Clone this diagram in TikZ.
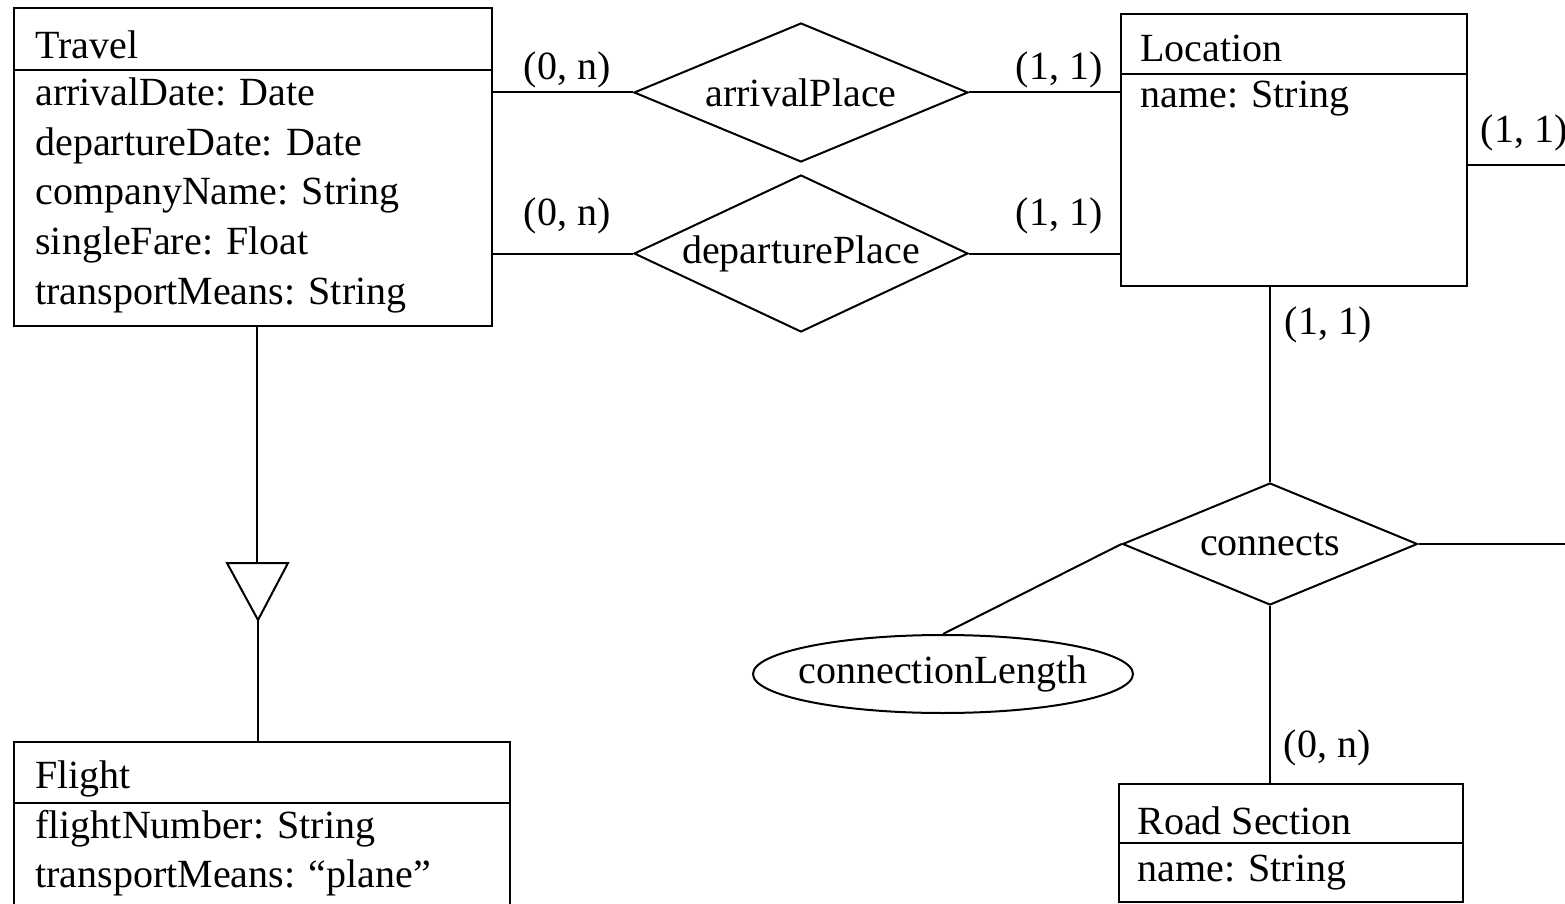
\documentclass[tikz,border=0pt]{standalone}
\usepackage{fontspec}
\setmainfont{Liberation Serif}
\usepackage{tikz}
\usetikzlibrary{shapes.geometric,fit}

\tikzset{
  box/.style={draw, line width=1pt, inner sep=0pt},
  rel/.style={draw, diamond, line width=1pt, inner sep=0pt, shape aspect=2.2, minimum width=334*0.5pt},
  attrib/.style={draw, ellipse, line width=1pt, inner sep=0pt},
  entry/.style={anchor=base west, inner sep=0pt},
  card/.style={inner sep=0pt},
  link/.style={line width=1pt},
}

\begin{document}
\begin{tikzpicture}[x=0.5pt, y=-0.5pt, font=\fontsize{20pt}{24pt}\selectfont]
\useasboundingbox (0,0) rectangle (1565,904);
\clip (0,0) rectangle (1565,904);

% entities
\node[box, fit={(14,8) (492,326)}] (travel) {};
\node[box, fit={(1121,14) (1467,286)}] (location) {};
\node[box, fit={(14,742) (510,930)}] (flight) {};
\node[box, fit={(1119,784) (1463,902)}] (road) {};
\draw[link] (14,70) -- (492,70);
\draw[link] (1121,74) -- (1467,74);
\draw[link] (14,803) -- (510,803);
\draw[link] (1119,843) -- (1463,843);

\node[entry] (travelname) at (35,59) {Travel};
\foreach \a [count=\i] in {arrivalDate: Date, departureDate: Date, companyName: String, singleFare: Float, transportMeans: String}
  \node[entry] (travel\i) at (35,{106+49.5*(\i-1)}) {\a};

\node[entry] (locationname) at (1140,62) {Location};
\node[entry] (location1) at (1140,108) {name: String};

\node[entry] (flightname) at (35,788) {Flight};
\node[entry] (flight1) at (35,838) {flightNumber: String};
\node[entry] (flight2) at (35,887) {transportMeans: “plane”};

\node[entry] (roadname) at (1137,834) {Road Section};
\node[entry] (road1) at (1137,881) {name: String};

% relationships
\node[rel, minimum height=139*0.5pt] (arrival) at (801,92.5) {arrivalPlace};
\node[rel, minimum height=157*0.5pt] (departure) at (801,253.5) {departurePlace};
\node[rel, minimum width=295*0.5pt, minimum height=122*0.5pt] (connects) at (1270,544) {connects};

\node[attrib, minimum width=380*0.5pt, minimum height=78*0.5pt] (length) at (943,674) {};
\node (lengthtext) at (length) {connectionLength};

% connectors
\draw[link] (arrival.west) -- (arrival.west -| travel.east);
\draw[link] (arrival.east) -- (arrival.east -| location.west);
\draw[link] (departure.west) -- (departure.west -| travel.east);
\draw[link] (departure.east) -- (departure.east -| location.west);

\coordinate (locout) at (1565,165);
\draw[link] (location.east |- locout) -- (locout);
\draw[link] (connects.north) -- (connects.north |- location.south);
\coordinate (connout) at (1565,544);
\draw[link] (connects.east) -- (connout);
\draw[link] (connects.west) -- (length.north);
\draw[link] (connects.south) -- (connects.south |- road.north);

% generalization
\coordinate (isabase) at (257,563);
\coordinate (isatip) at (258,620);
\draw[link] (isabase |- travel.south) -- (isabase);
\draw[link] (227,563) -- (288,563) -- (isatip) -- cycle;
\draw[link] (isatip) -- (isatip |- flight.north);

% cardinalities
\node[card] (c1) at (567,70) {(0, n)};
\node[card] (c2) at (567,216) {(0, n)};
\node[card] (c3) at (1059,70) {(1, 1)};
\node[card] (c4) at (1059,216) {(1, 1)};
\node[card] (c5) at (1524,133) {(1, 1)};
\node[card] (c6) at (1328,325) {(1, 1)};
\node[card] (c7) at (1327,748) {(0, n)};
\end{tikzpicture}
\end{document}
